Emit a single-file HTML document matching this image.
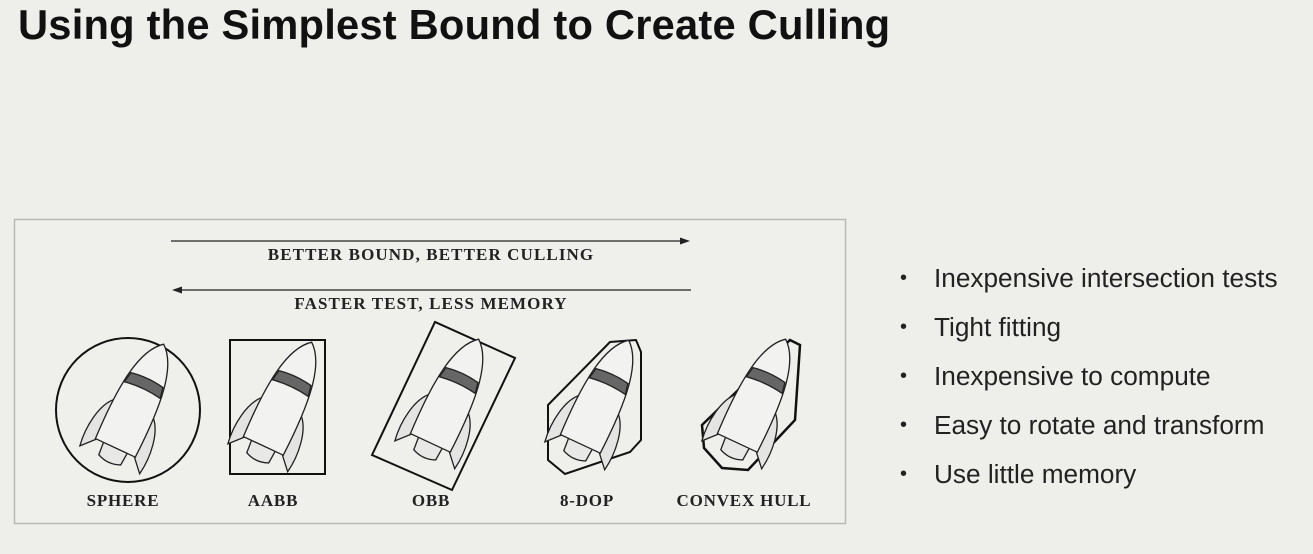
<!DOCTYPE html>
<html><head><meta charset="utf-8"><style>
body{margin:0;width:1313px;height:554px;background:#eeeeeb;overflow:hidden;position:relative;font-family:"Liberation Sans",sans-serif}
h1{position:absolute;left:18px;top:1px;margin:0;font-size:41.7px;font-weight:bold;color:#111;letter-spacing:0.2px}
ul{position:absolute;left:900px;top:261px;margin:0;padding:0;list-style:none}
li{font-size:26.2px;color:#222;height:49px;line-height:34px;position:relative;padding-left:34px}
li:before{content:"•";position:absolute;left:0;top:0;font-size:20px}
</style></head><body>
<h1>Using the Simplest Bound to Create Culling</h1>
<svg width="1313" height="554" style="position:absolute;left:0;top:0">
<rect x="14.5" y="219.5" width="831" height="304" fill="#efefec" stroke="#b8b8b4" stroke-width="1.5"/>
<g><line x1="171" y1="241" x2="684" y2="241" stroke="#222" stroke-width="1.2"/><polygon points="690,241 680,237.5 680,244.5" fill="#222"/></g>
<text x="431" y="260" text-anchor="middle" font-family="Liberation Serif,serif" font-weight="bold" font-size="17" letter-spacing="1.1" fill="#222">BETTER BOUND, BETTER CULLING</text>
<g><line x1="178" y1="290" x2="691" y2="290" stroke="#222" stroke-width="1.2"/><polygon points="172,290 182,286.5 182,293.5" fill="#222"/></g>
<text x="431" y="309" text-anchor="middle" font-family="Liberation Serif,serif" font-weight="bold" font-size="17" letter-spacing="1.1" fill="#222">FASTER TEST, LESS MEMORY</text>
<circle cx="128" cy="410" r="72" fill="none" stroke="#111" stroke-width="2"/>
<rect x="230" y="340" width="95" height="134" fill="none" stroke="#111" stroke-width="2"/>
<polygon points="372,455 435,322 515,358 452,490" fill="none" stroke="#111" stroke-width="2"/>
<polygon points="548,405 610,342 636,340 641,352 641,440 630,452 565,474 548,460" fill="none" stroke="#111" stroke-width="2"/>
<polygon points="702,425 790,340 800,345 795,420 748,470 722,468 704,448" fill="none" stroke="#111" stroke-width="2.5"/>
<g id="rockets"></g>
<g font-family="Liberation Serif,serif" font-weight="bold" font-size="17" letter-spacing="0.8" fill="#222" text-anchor="middle">
<text x="123" y="506">SPHERE</text>
<text x="273" y="506">AABB</text>
<text x="431" y="506">OBB</text>
<text x="587" y="506">8-DOP</text>
<text x="744" y="506">CONVEX HULL</text>
</g>
</svg>
<ul>
<li>Inexpensive intersection tests</li>
<li>Tight fitting</li>
<li>Inexpensive to compute</li>
<li>Easy to rotate and transform</li>
<li>Use little memory</li>
</ul>
<script>
const rocketX=[133,281,448,598,755];
const rocketY=[410,408,405,406,405];
const NS="http://www.w3.org/2000/svg";
const g=document.getElementById('rockets');
function p(d,fill,parent){const e=document.createElementNS(NS,'path');e.setAttribute('d',d);e.setAttribute('fill',fill);e.setAttribute('stroke','#222');e.setAttribute('stroke-width','1.2');parent.appendChild(e);return e;}
for(let i=0;i<rocketX.length;i++){
 const r=document.createElementNS(NS,'g');
 
 
 r.setAttribute('transform',`translate(${rocketX[i]},${rocketY[i]}) rotate(25) scale(1.1)`);
 p('M-19,-2 C-30,8 -33,32 -30,50 L-19,38 Z','#e4e4e2',r);
 p('M19,-2 C30,8 33,32 30,50 L19,38 Z','#e4e4e2',r);
 p('M-12,36 L12,36 L11,50 Q0,55 -11,50 Z','#e8e8e6',r);
 p('M0,-66 C18,-52 22,-15 20,38 L-20,38 C-22,-15 -18,-52 0,-66 Z','#f2f2f0',r);
 p('M-16,-30 Q0,-33 16,-30 L18,-20 Q0,-23 -18,-20 Z','#666',r);
 g.appendChild(r);
}
</script>
</body></html>
